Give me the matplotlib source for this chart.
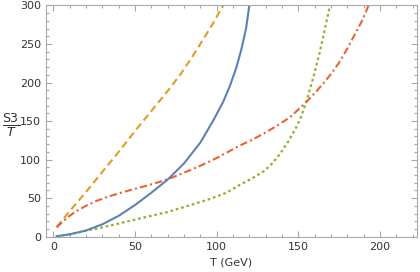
import matplotlib
matplotlib.use("Agg")
import matplotlib.pyplot as plt
from matplotlib.ticker import MultipleLocator

t_blue = [2, 10, 20, 30, 40, 50, 60, 70, 80, 90, 98, 104, 108, 112, 115, 118, 120]
s_blue = [0.5, 3, 8, 16, 27, 41, 57, 74, 95, 122, 151, 175, 195, 219, 242, 270, 300]

t_orange = [2, 10, 20, 30, 40, 50, 60, 70, 78, 84, 90, 97, 104]
s_orange = [12.5, 33, 58, 84, 110, 137, 163, 189, 211, 230, 250, 274, 300]

t_red = [2, 6, 10, 14, 20, 26, 33, 40, 48, 57, 65, 72, 80, 90, 100, 114, 122,
         129, 137, 145, 151, 155, 160, 165, 170, 175, 180, 185, 189, 193]
s_red = [12, 20, 27, 33, 40, 46, 51.5, 56, 61, 66, 71, 76, 83, 92, 102, 118, 126,
         134, 144, 155, 167, 175, 186, 198, 211, 226, 244, 264, 280, 300]

t_green = [2, 10, 20, 30, 40, 53, 70, 84, 96, 106, 114, 122, 129, 134, 139, 144,
           149, 152, 155, 159, 163, 166, 169.4]
s_green = [0.5, 3, 7.5, 12, 17, 23.6, 32, 41, 49, 57, 67, 76, 85, 95, 108, 124,
           143, 157, 176, 205, 238, 267, 300]

fig = plt.figure(figsize=(4.2, 2.72), dpi=100)
ax = fig.add_axes([0.1095, 0.13, 0.8835, 0.85])

ax.plot(t_orange, s_orange, color="#E19C24", lw=1.5, dashes=(3.5, 2))
ax.plot(t_green, s_green, color="#8FB032", lw=1.6, dashes=(1.2, 1.3))
ax.plot(t_red, s_red, color="#EB6235", lw=1.5, dashes=(3.5, 1.5, 1, 1.5))
ax.plot(t_blue, s_blue, color="#5E81B5", lw=1.5)

ax.set_xlim(-4.5, 222.7)
ax.set_ylim(0, 300)
ax.xaxis.set_major_locator(MultipleLocator(50))
ax.xaxis.set_minor_locator(MultipleLocator(10))
ax.yaxis.set_major_locator(MultipleLocator(50))
ax.yaxis.set_minor_locator(MultipleLocator(10))

for s in ax.spines.values():
    s.set_color("#a8a8a8")
    s.set_linewidth(0.8)
ax.tick_params(which="both", direction="in", top=True, right=True,
               color="#a8a8a8", labelsize=8, labelcolor="#333333", width=0.8)
ax.tick_params(which="major", length=4)
ax.tick_params(which="minor", length=2.2)

ax.set_xlabel("T (GeV)", fontsize=8, color="#333333", labelpad=4)
fig.text(0.026, 0.54, r"$\frac{\mathrm{S3}}{T}$", fontsize=13, color="#333333",
         ha="center", va="center")

fig.savefig("out.png", dpi=100)
